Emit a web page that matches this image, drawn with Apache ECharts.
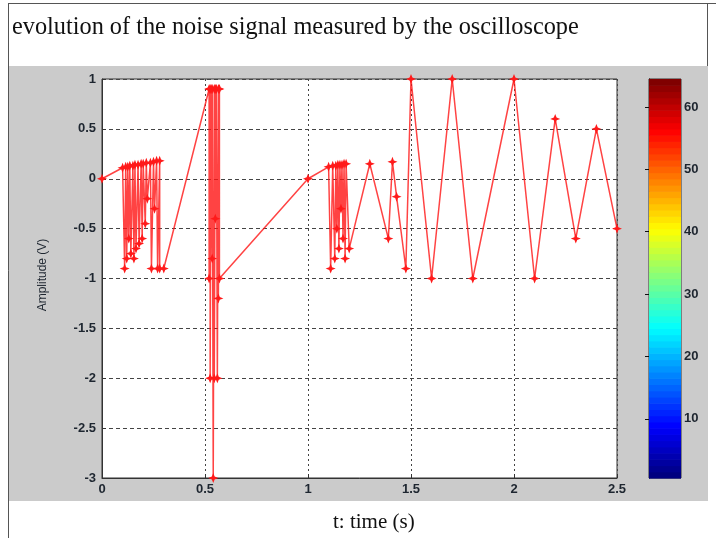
<!DOCTYPE html>
<html>
<head>
<meta charset="utf-8">
<script src="https://cdn.jsdelivr.net/npm/echarts@6/dist/echarts.min.js"></script>
<style>
  html, body { margin: 0; padding: 0; background: #fff; }
  #main { width: 716px; height: 538px; }
</style>
</head>
<body>
<div id="main"></div>
<script>
// 时间 (s)
var timeValues = [
  0, 0.1, 0.11, 0.115, 0.12, 0.125, 0.13, 0.135, 0.14, 0.15, 0.155, 0.16, 0.165, 0.175, 0.18,
  0.19, 0.195, 0.2, 0.21, 0.215, 0.22, 0.235, 0.24, 0.25, 0.255, 0.265, 0.27, 0.28, 0.28, 0.3,
  0.52, 0.52, 0.525, 0.525, 0.53, 0.535, 0.535, 0.54, 0.545, 0.545, 0.55, 0.55, 0.555, 0.56,
  0.565, 0.565, 0.57, 0.57,
  1, 1.1, 1.11, 1.12, 1.13, 1.135, 1.14, 1.145, 1.15, 1.155, 1.16, 1.165, 1.17, 1.175, 1.18,
  1.185, 1.2, 1.3, 1.39, 1.41, 1.43, 1.475, 1.5, 1.6, 1.7, 1.8, 2, 2.1, 2.2, 2.3, 2.4, 2.5
];
// 幅值 (V)
var amplitudeValues = [
  0, 0.11, -0.9, 0.12, -0.8, 0.12, -0.6, 0.13, -0.75, 0.13, -0.8, 0.14, -0.7, 0.14, -0.65,
  0.15, -0.6, 0.15, -0.45, 0.16, -0.2, 0.16, -0.9, 0.17, -0.3, 0.18, -0.9, 0.18, -0.9, -0.9,
  0.9, -1, 0.9, -2, 0.9, -0.8, 0.9, -3, 0.9, -2, 0.9, -0.4, 0.9, -2,
  0.9, -1.2, 0.9, -1,
  0, 0.12, -0.9, 0.13, -0.8, 0.13, -0.5, 0.14, -0.7, 0.14, -0.3, 0.14, -0.6, 0.15, -0.8,
  0.15, -0.7, 0.15, -0.6, 0.17, -0.18, -0.9, 1, -1, 1, -1, 1, -1, 0.6, -0.6, 0.5, -0.5
];
// 色标
var colorLevels = [];
for (var i = 1; i <= 64; i++) colorLevels.push(i);
var colorbarTicks = [10, 20, 30, 40, 50, 60];
var jetColors = ['#000080', '#0000ff', '#0080ff', '#00ffff', '#80ff80', '#ffff00', '#ff8000', '#ff0000', '#800000'];

var myChart = echarts.init(document.getElementById('main'));

var signal = [];
for (var k = 0; k < timeValues.length; k++) {
  signal.push([timeValues[k], amplitudeValues[k]]);
}
var bars = [];
for (var j = 0; j < colorLevels.length; j++) {
  bars.push([0, colorLevels[j]]);
}

var tickFont = { color: '#1e2630', fontSize: 13, fontWeight: 'bold', fontFamily: 'Arial, Liberation Sans, sans-serif' };
var star = 'path://M0,-5 L1.4,-1.4 L5,0 L1.4,1.4 L0,5 L-1.4,1.4 L-5,0 L-1.4,-1.4 Z';

var option = {
  animation: false,
  backgroundColor: '#fff',
  title: {
    text: 'evolution of the noise signal measured by the oscilloscope',
    left: 7,
    top: 11,
    textStyle: { fontFamily: 'Liberation Serif, Times New Roman, serif', fontSize: 24.3, fontWeight: 'normal', color: '#111' }
  },
  graphic: [
    { type: 'rect', z: -10, shape: { x: 8, y: 66, width: 700, height: 435 }, style: { fill: '#cbcbcb' } },
    { type: 'line', shape: { x1: 8.5, y1: 3, x2: 8.5, y2: 538 }, style: { stroke: '#555', lineWidth: 1 } },
    { type: 'line', shape: { x1: 8, y1: 3.5, x2: 716, y2: 3.5 }, style: { stroke: '#555', lineWidth: 1 } },
    { type: 'line', shape: { x1: 707.5, y1: 3, x2: 707.5, y2: 66 }, style: { stroke: '#555', lineWidth: 1 } },
    { type: 'text', left: 333, top: 512, style: { text: 't: time (s)', font: '21px "Liberation Serif", serif', fill: '#111' } },
    { type: 'text', x: 43, y: 275, rotation: Math.PI / 2, style: { text: 'Amplitude (V)', font: '12px Arial, "Liberation Sans", sans-serif', fill: '#1e2630', align: 'center', verticalAlign: 'middle' } }
  ],
  grid: [
    { left: 102, top: 79, width: 515, height: 399, show: true, backgroundColor: '#fff', borderColor: '#333', borderWidth: 1 },
    { left: 649, top: 79, width: 32, height: 399, show: true, borderColor: '#333', borderWidth: 1 }
  ],
  xAxis: [
    {
      gridIndex: 0, type: 'value', min: 0, max: 2.5, interval: 0.5,
      axisLine: { onZero: false, lineStyle: { color: '#333' } },
      axisTick: { inside: true, length: 4, lineStyle: { color: '#333' } },
      axisLabel: Object.assign({ margin: 5 }, tickFont),
      splitLine: { show: true, lineStyle: { color: '#444', type: [2, 3], width: 1 } }
    },
    { gridIndex: 1, type: 'value', min: 0, max: 1, show: false }
  ],
  yAxis: [
    {
      gridIndex: 0, type: 'value', min: -3, max: 1, interval: 0.5,
      axisLine: { onZero: false, lineStyle: { color: '#333' } },
      axisTick: { inside: true, length: 4, lineStyle: { color: '#333' } },
      axisLabel: Object.assign({ margin: 6 }, tickFont),
      splitLine: { show: true, lineStyle: { color: '#444', type: [4, 3], width: 1 } }
    },
    {
      gridIndex: 1, type: 'value', min: 0.5, max: 64.5, position: 'right',
      axisLine: { show: true, lineStyle: { color: '#333' } },
      axisTick: { inside: true, length: 4, customValues: colorbarTicks, lineStyle: { color: '#111' } },
      axisLabel: Object.assign({ margin: 3, customValues: colorbarTicks }, tickFont),
      splitLine: { show: false }
    },
    {
      gridIndex: 1, type: 'value', min: 0.5, max: 64.5, position: 'left',
      axisLine: { show: true, lineStyle: { color: '#333' } },
      axisTick: { inside: true, length: 4, customValues: colorbarTicks, lineStyle: { color: '#111' } },
      axisLabel: { show: false },
      splitLine: { show: false }
    }
  ],
  series: [
    {
      name: 'signal',
      type: 'line',
      xAxisIndex: 0,
      yAxisIndex: 0,
      data: signal,
      symbol: star,
      symbolSize: 10,
      showAllSymbol: true,
      itemStyle: { color: '#ff1a1a' },
      lineStyle: { color: 'rgba(255,20,20,0.8)', width: 1.5 },
      z: 5
    },
    {
      name: 'colorbar',
      type: 'custom',
      xAxisIndex: 1,
      yAxisIndex: 1,
      silent: true,
      data: bars,
      encode: { x: 0, y: 1 },
      renderItem: function(params, api) {
        var v = api.value(1);
        var top = api.coord([0, v + 0.5]);
        var bottom = api.coord([1, v - 0.5]);
        var c = echarts.color.lerp((v - 1) / 63, jetColors);
        return {
          type: 'rect',
          shape: { x: top[0], y: top[1], width: bottom[0] - top[0], height: bottom[1] - top[1] + 0.6 },
          style: { fill: c }
        };
      },
      z: 1
    }
  ]
};
myChart.setOption(option);
</script>
</body>
</html>
